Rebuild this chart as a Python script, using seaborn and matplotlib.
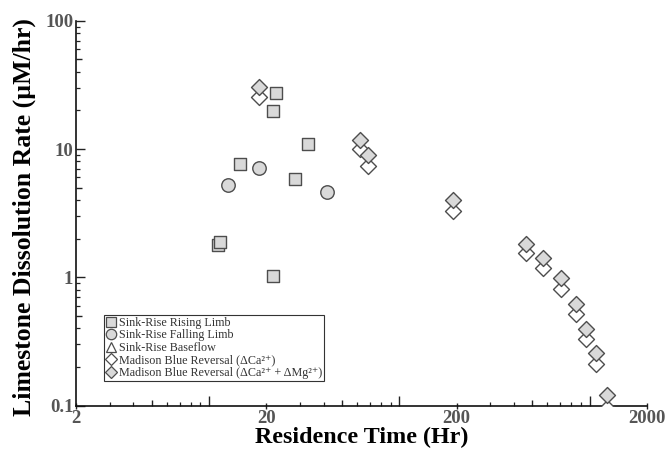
import matplotlib
matplotlib.use("Agg")
import matplotlib.pyplot as plt
from matplotlib.lines import Line2D
from matplotlib.ticker import FixedLocator, NullFormatter, FixedFormatter
from matplotlib.font_manager import FontProperties
import pandas as pd
import seaborn as sns

# Residence time (hr) and dissolution rate (uM/hr) per sampling series
rising_time = [11.2, 11.4, 14.6, 21.6, 22.6, 21.6, 28.3, 33.3]
rising_rate = [1.78, 1.90, 7.7, 19.8, 27.2, 1.03, 5.8, 10.9]

falling_time = [12.6, 18.4, 41.9]
falling_rate = [5.24, 7.15, 4.65]

baseflow_time = []
baseflow_rate = []

mb_time = [18.4, 62, 68, 191, 461, 569, 706, 843, 962, 1077, 1239]
mb_ca_rate = [25.3, 9.95, 7.37, 3.30, 1.54, 1.19, 0.81, 0.515, 0.329, 0.213, 0.096]
mb_camg_rate = [30.3, 11.75, 8.98, 4.0, 1.82, 1.42, 0.98, 0.617, 0.394, 0.258, 0.122]

x_ticks = [2, 20, 200, 2000]
x_tick_labels = ["2", "20", "200", "2000"]
y_ticks = [0.1, 1, 10, 100]
y_tick_labels = ["0.1", "1", "10", "100"]

series_labels = [
    "Sink-Rise Rising Limb",
    "Sink-Rise Falling Limb",
    "Sink-Rise Baseflow",
    "Madison Blue Reversal (\u0394Ca\u00b2\u207a)",
    "Madison Blue Reversal (\u0394Ca\u00b2\u207a + \u0394Mg\u00b2\u207a)",
]

sns.set_style("ticks")
plt.rcParams["font.family"] = ["Liberation Serif", "DejaVu Serif"]

GRAY = "#d9d9d9"
EDGE = "#4d4d4d"
TICK = "#222222"

fig, ax = plt.subplots(figsize=(6.67, 4.49), dpi=100)
fig.subplots_adjust(left=0.114, right=0.970, top=0.954, bottom=0.0964)

series = [
    (series_labels[0], rising_time, rising_rate, "s", GRAY, 78, 3),
    (series_labels[1], falling_time, falling_rate, "o", GRAY, 94, 3),
    (series_labels[2], baseflow_time, baseflow_rate, "^", "white", 80, 3),
    (series_labels[3], mb_time, mb_ca_rate, "D", "white", 66, 4),
    (series_labels[4], mb_time, mb_camg_rate, "D", GRAY, 66, 5),
]

handles = []
for label, t, r, marker, face, size, z in series:
    if len(t):
        df = pd.DataFrame({"time": t, "rate": r})
        sns.scatterplot(data=df, x="time", y="rate", marker=marker, s=size,
                        color=face, edgecolor=EDGE, linewidth=1.0,
                        ax=ax, legend=False, zorder=z)
    handles.append(Line2D([], [], linestyle="none", marker=marker,
                          markersize=7.5 if marker != "D" else 6.5,
                          markerfacecolor=face, markeredgecolor=EDGE,
                          markeredgewidth=0.9, label=label))

ax.set_xscale("log")
ax.set_yscale("log")
ax.set_xlim(2, 2000)
ax.set_ylim(0.1, 100)

# labelled ticks plus plain minor ticks on the main axes
ax.xaxis.set_major_locator(FixedLocator(x_ticks))
ax.xaxis.set_major_formatter(FixedFormatter(x_tick_labels))
x_minor = [m * 10 ** k for k in range(0, 4) for m in (3, 4, 6, 7, 8, 9) if 2 < m * 10 ** k < 2000]
ax.xaxis.set_minor_locator(FixedLocator(x_minor))
ax.xaxis.set_minor_formatter(NullFormatter())

ax.yaxis.set_major_locator(FixedLocator(y_ticks))
ax.yaxis.set_major_formatter(FixedFormatter(y_tick_labels))
y_minor = [m * 10 ** k for k in range(-1, 2) for m in (2, 3, 4, 6, 7, 8, 9)]
ax.yaxis.set_minor_locator(FixedLocator(y_minor))
ax.yaxis.set_minor_formatter(NullFormatter())

tick_font = FontProperties(family="Liberation Serif", weight="bold", size=13.5)
for lab in ax.get_xticklabels() + ax.get_yticklabels():
    lab.set_fontproperties(tick_font)
    lab.set_color("#555555")

ax.tick_params(axis="x", which="major", direction="inout", length=4.5, width=1, pad=0.5, color=TICK)
ax.tick_params(axis="x", which="minor", direction="in", length=2.6, width=0.9, color=TICK)
ax.tick_params(axis="y", which="major", direction="in", length=6.5, width=1, pad=2, color=TICK)
ax.tick_params(axis="y", which="minor", direction="in", length=2.6, width=0.9, color=TICK)


def extra_ticks(kind, ticks, length):
    """Unlabelled tick marks of a given length drawn on a twin axis."""
    if kind == "x":
        sec = ax.secondary_xaxis("bottom")
        sec.set_xticks(ticks)
        sec.tick_params(which="major", direction="in", length=length, width=1,
                        color=TICK, labelbottom=False)
        sec.tick_params(which="minor", length=0, labelbottom=False)
        sec.spines["bottom"].set_visible(False)
    else:
        sec = ax.secondary_yaxis("left")
        sec.set_yticks(ticks)
        sec.tick_params(which="major", direction="in", length=length, width=1,
                        color=TICK, labelleft=False)
        sec.tick_params(which="minor", length=0, labelleft=False)
        sec.spines["left"].set_visible(False)
    return sec


extra_ticks("x", [10, 100, 1000], 7.5)
extra_ticks("x", [5, 50, 500], 4.3)
extra_ticks("y", [0.5, 5, 50], 4.3)

for side in ("top", "right"):
    ax.spines[side].set_visible(False)
for side in ("left", "bottom"):
    ax.spines[side].set_linewidth(1.2)
    ax.spines[side].set_color("#111111")

ax.set_xlabel("Residence Time (Hr)", fontsize=17.3, fontweight="bold", color="black", labelpad=0)
ax.set_ylabel("Limestone Dissolution Rate (\u00b5M/hr)", fontsize=18.5, fontweight="bold", color="black")
ax.yaxis.set_label_coords(-0.071, 0.489)

leg = ax.legend(handles=handles, loc="upper left", bbox_to_anchor=(0.049, 0.2356),
                borderaxespad=0, frameon=True, fancybox=False, framealpha=1,
                edgecolor="#333333", fontsize=8.7, labelcolor="#333333",
                handlelength=0.8, handletextpad=0.3, borderpad=0.15,
                labelspacing=0.05)
leg.get_frame().set_linewidth(0.8)
leg.set_zorder(10)

fig.savefig("out.png", dpi=100)
